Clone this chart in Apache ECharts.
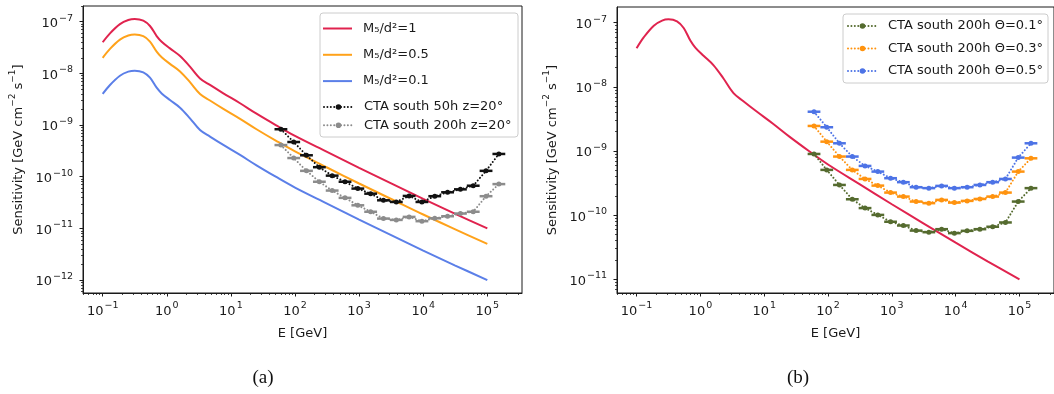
<!DOCTYPE html>
<html><head><meta charset="utf-8">
<script src="https://cdn.jsdelivr.net/npm/echarts@6/dist/echarts.min.js"></script>
<style>html,body{margin:0;padding:0;background:#fff}#c{width:1054px;height:394px}</style>
</head><body><div id="c"></div>
<script>
// ---- data (energies in GeV, sensitivities in GeV cm^-2 s^-1) ----
const lineE = [0.1, 0.13, 0.186, 0.251, 0.316, 0.43, 0.547, 0.695, 0.832, 1.12, 1.61, 2.3, 3.3, 4.72, 7.62, 13.9, 25.1, 50.1, 100, 316, 1000, 3162, 10000, 31623, 100000];
const sensM1  = [4.0e-8, 5.96e-8, 9.0e-8, 1.08e-7, 1.13e-7, 1.05e-7, 8.26e-8, 5.28e-8, 4.1e-8, 3.05e-8, 2.17e-8, 1.35e-8, 8.0e-9, 5.97e-9, 4.12e-9, 2.64e-9, 1.66e-9, 1.0e-9, 6.17e-10, 3.02e-10, 1.48e-10, 7.41e-11, 3.72e-11, 1.91e-11, 1.0e-11];
const sensM05 = [2.0e-8, 2.98e-8, 4.5e-8, 5.4e-8, 5.65e-8, 5.25e-8, 4.13e-8, 2.64e-8, 2.05e-8, 1.53e-8, 1.09e-8, 6.75e-9, 4.0e-9, 2.99e-9, 2.06e-9, 1.32e-9, 8.3e-10, 5.0e-10, 3.09e-10, 1.51e-10, 7.4e-11, 3.71e-11, 1.86e-11, 9.6e-12, 5.0e-12];
const sensM01 = [4.0e-9, 5.96e-9, 9.0e-9, 1.08e-8, 1.13e-8, 1.05e-8, 8.26e-9, 5.28e-9, 4.1e-9, 3.05e-9, 2.17e-9, 1.35e-9, 8.0e-10, 5.97e-10, 4.12e-10, 2.64e-10, 1.66e-10, 1.0e-10, 6.17e-11, 3.02e-11, 1.48e-11, 7.41e-12, 3.72e-12, 1.91e-12, 1.0e-12];

const ctaE = [60.3, 95.5, 151, 240, 380, 603, 955, 1514, 2399, 3802, 6026, 9550, 15136, 23988, 38019, 60256, 95499, 151356];
const ctaBinHalfWidthDecades = 0.1;
const cta50h   = [8.3e-10, 4.7e-10, 2.6e-10, 1.53e-10, 1.05e-10, 8.0e-11, 5.9e-11, 4.7e-11, 3.5e-11, 3.25e-11, 4.25e-11, 3.25e-11, 4.2e-11, 5.0e-11, 5.7e-11, 6.7e-11, 1.3e-10, 2.76e-10];
const cta200h  = [4.1e-10, 2.3e-10, 1.3e-10, 8.0e-11, 5.4e-11, 3.9e-11, 2.8e-11, 2.1e-11, 1.55e-11, 1.46e-11, 1.67e-11, 1.38e-11, 1.57e-11, 1.72e-11, 1.94e-11, 2.1e-11, 4.2e-11, 7.2e-11];
const ctaTheta01 = [9.0e-10, 5.08e-10, 2.96e-10, 1.77e-10, 1.29e-10, 1.01e-10, 7.9e-11, 6.9e-11, 5.75e-11, 5.43e-11, 6.05e-11, 5.25e-11, 5.7e-11, 6.05e-11, 6.6e-11, 7.7e-11, 1.63e-10, 2.64e-10];
const ctaTheta03 = [2.46e-9, 1.4e-9, 8.2e-10, 5.08e-10, 3.67e-10, 2.89e-10, 2.25e-10, 1.95e-10, 1.63e-10, 1.54e-10, 1.73e-10, 1.57e-10, 1.67e-10, 1.79e-10, 1.95e-10, 2.25e-10, 4.78e-10, 7.7e-10];
const ctaTheta05 = [4.1e-9, 2.35e-9, 1.32e-9, 8.2e-10, 5.86e-10, 4.78e-10, 3.77e-10, 3.27e-10, 2.73e-10, 2.64e-10, 2.86e-10, 2.64e-10, 2.73e-10, 2.96e-10, 3.27e-10, 3.67e-10, 7.9e-10, 1.32e-9];

const xTickValues = [0.1, 1, 10, 100, 1000, 10000, 100000];
const yTickValuesA = [1e-12, 1e-11, 1e-10, 1e-9, 1e-8, 1e-7];
const yTickValuesB = [1e-11, 1e-10, 1e-9, 1e-8, 1e-7];

const namesA = ['M\u2085/d\u00b2=1', 'M\u2085/d\u00b2=0.5', 'M\u2085/d\u00b2=0.1'];
const namesCtaA = ['CTA south 50h z=20\u00b0', 'CTA south 200h z=20\u00b0'];
const namesB = ['CTA south 200h \u0398=0.1\u00b0', 'CTA south 200h \u0398=0.3\u00b0', 'CTA south 200h \u0398=0.5\u00b0'];

// ---- helpers ----
const L = v => Math.log10(v);
const pts = (xs, ys) => xs.map((x, i) => [L(x), L(ys[i])]);
function minorTicks(lo, hi) {
  const out = [];
  for (let n = Math.floor(lo) - 1; n <= Math.ceil(hi); n++)
    for (let k = 2; k <= 9; k++) { const v = n + Math.log10(k); if (v > lo && v < hi) out.push(v); }
  return out;
}
const FONT = 'DejaVu Sans';
const INK = '#1a1a1a';
const rich = {
  b: { fontSize: 13, fontFamily: FONT, color: INK, lineHeight: 17, verticalAlign: 'bottom' },
  s: { fontSize: 9.5, fontFamily: FONT, color: INK, lineHeight: 10, verticalAlign: 'top', padding: [0, 0, 0, 1] }
};
function powLabel(v) {
  const n = Math.round(v);
  return '{b|10}{s|' + (n < 0 ? '\u2212' + (-n) : String(n)) + '}';
}
function axes(dim, gridIndex, min, max, tickVals, name, nameGap, margin) {
  const majors = tickVals.map(L);
  const base = { type: 'value', gridIndex, min, max, splitLine: { show: false }, position: dim === 'x' ? 'bottom' : 'left' };
  const major = Object.assign({}, base, {
    name, nameLocation: 'middle', nameGap,
    nameTextStyle: { fontSize: 13, fontFamily: FONT, color: INK, rich: { s: { fontSize: 9, fontFamily: FONT, color: INK, lineHeight: 10, verticalAlign: 'top' }, n: { fontSize: 13, fontFamily: FONT, color: INK, lineHeight: 17, verticalAlign: 'bottom' } } },
    axisLine: { show: true, onZero: false, lineStyle: { color: INK, width: 1 } },
    axisTick: { show: true, customValues: majors, length: 3.5, lineStyle: { color: INK, width: 1 } },
    axisLabel: { show: true, customValues: majors, formatter: powLabel, rich, margin }
  });
  const minor = Object.assign({}, base, {
    axisLine: { show: false, onZero: false },
    axisTick: { show: true, customValues: minorTicks(min, max), length: 2, lineStyle: { color: INK, width: 0.8 } },
    axisLabel: { show: false }
  });
  return [major, minor];
}
const yName = '{n|Sensitivity [GeV cm}{s|\u22122}{n| s}{s|\u22121}{n|]}';

const xMin = -1.307, xMax = 5.541;
const yMinA = -12.25, yMaxA = -6.696;
const yMinB = -11.213, yMaxB = -6.755;

const xA = axes('x', 0, xMin, xMax, xTickValues, 'E [GeV]', 34, 8);
const xB = axes('x', 1, xMin, xMax, xTickValues, 'E [GeV]', 34, 8);
const yA = axes('y', 0, yMinA, yMaxA, yTickValuesA, yName, 58, 10);
const yB = axes('y', 1, yMinB, yMaxB, yTickValuesB, yName, 58, 10);

function curve(name, xs, ys, color, xi, yi) {
  return { name, type: 'line', xAxisIndex: xi, yAxisIndex: yi, data: pts(xs, ys), symbol: 'none', smooth: 0.35,
    lineStyle: { color, width: 2 }, itemStyle: { color }, z: 2, silent: true, animation: false };
}
function cta(name, ys, color, xi, yi) {
  return { name, type: 'line', xAxisIndex: xi, yAxisIndex: yi, data: pts(ctaE, ys), symbol: 'circle', symbolSize: 5, showSymbol: true,
    lineStyle: { color, width: 2, type: [0.01, 3.4], cap: 'round' }, itemStyle: { color }, z: 4, silent: true, animation: false };
}
function errbars(name, ys, color, xi, yi) {
  return { name, type: 'custom', xAxisIndex: xi, yAxisIndex: yi, data: pts(ctaE, ys), z: 3, silent: true, animation: false,
    renderItem: (params, api) => {
      const x = api.value(0), y = api.value(1);
      const p1 = api.coord([x - ctaBinHalfWidthDecades, y]);
      const p2 = api.coord([x + ctaBinHalfWidthDecades, y]);
      return { type: 'line', shape: { x1: p1[0], y1: p1[1], x2: p2[0], y2: p2[1] }, style: { stroke: color, lineWidth: 2.5 } };
    } };
}

const RED = '#e0234e', ORANGE = '#ffa21a', BLUE = '#5b7fe8', GRAY = '#8c8c8c', BLACK = '#111111';
const GREEN = '#556b2f', ORANGE2 = '#ff930f', BLUE2 = '#4d73e6';

const legendText = { fontSize: 13, fontFamily: FONT, color: INK, lineHeight: 14, padding: [0, 0, 0, 6] };

const option = {
  backgroundColor: '#fff',
  animation: false,
  grid: [
    { left: 83, right: 532, top: 6, bottom: 101, show: true, borderColor: INK, borderWidth: 1, containLabel: false },
    { left: 617, right: -2, top: 7, bottom: 101, show: true, borderColor: INK, borderWidth: 1, containLabel: false }
  ],
  xAxis: [xA[0], xA[1], xB[0], xB[1]],
  yAxis: [yA[0], yA[1], yB[0], yB[1]],
  legend: [
    { data: namesA.map(n => ({ name: n, icon: 'rect' })), orient: 'vertical', left: 323, top: 21.5, itemWidth: 29, itemHeight: 2, itemGap: 12.3, padding: 0, textStyle: legendText, z: 12, selectedMode: false },
    { data: namesCtaA, orient: 'vertical', left: 323, top: 100, itemWidth: 29, itemHeight: 7, itemGap: 4.3, padding: 0, textStyle: legendText, z: 12, selectedMode: false },
    { data: namesB, orient: 'vertical', left: 847, top: 19, itemWidth: 29, itemHeight: 7, itemGap: 8.5, padding: 0, textStyle: legendText, z: 12, selectedMode: false }
  ],
  graphic: [
    { type: 'rect', shape: { x: 320, y: 13, width: 198, height: 124, r: 3 }, style: { fill: 'rgba(255,255,255,0.85)', stroke: '#cccccc', lineWidth: 1 }, z: 10, silent: true },
    { type: 'rect', shape: { x: 843, y: 14, width: 205, height: 69, r: 3 }, style: { fill: 'rgba(255,255,255,0.85)', stroke: '#cccccc', lineWidth: 1 }, z: 10, silent: true },
    { type: 'text', x: 263, y: 378, style: { text: '(a)', font: '19px "Liberation Serif"', fill: '#111', textAlign: 'center', textVerticalAlign: 'middle' }, silent: true },
    { type: 'text', x: 798, y: 378, style: { text: '(b)', font: '19px "Liberation Serif"', fill: '#111', textAlign: 'center', textVerticalAlign: 'middle' }, silent: true }
  ],
  series: [
    curve(namesA[0], lineE, sensM1, RED, 0, 0),
    curve(namesA[1], lineE, sensM05, ORANGE, 0, 0),
    curve(namesA[2], lineE, sensM01, BLUE, 0, 0),
    errbars('err50h', cta50h, BLACK, 0, 0),
    cta(namesCtaA[0], cta50h, BLACK, 0, 0),
    errbars('err200h', cta200h, GRAY, 0, 0),
    cta(namesCtaA[1], cta200h, GRAY, 0, 0),

    curve('M1 right', lineE, sensM1, RED, 2, 2),
    errbars('errT01', ctaTheta01, GREEN, 2, 2),
    cta(namesB[0], ctaTheta01, GREEN, 2, 2),
    errbars('errT03', ctaTheta03, ORANGE2, 2, 2),
    cta(namesB[1], ctaTheta03, ORANGE2, 2, 2),
    errbars('errT05', ctaTheta05, BLUE2, 2, 2),
    cta(namesB[2], ctaTheta05, BLUE2, 2, 2)
  ]
};
const chart = echarts.init(document.getElementById('c'), null, { renderer: 'canvas' });
chart.setOption(option);
</script>
</body></html>
